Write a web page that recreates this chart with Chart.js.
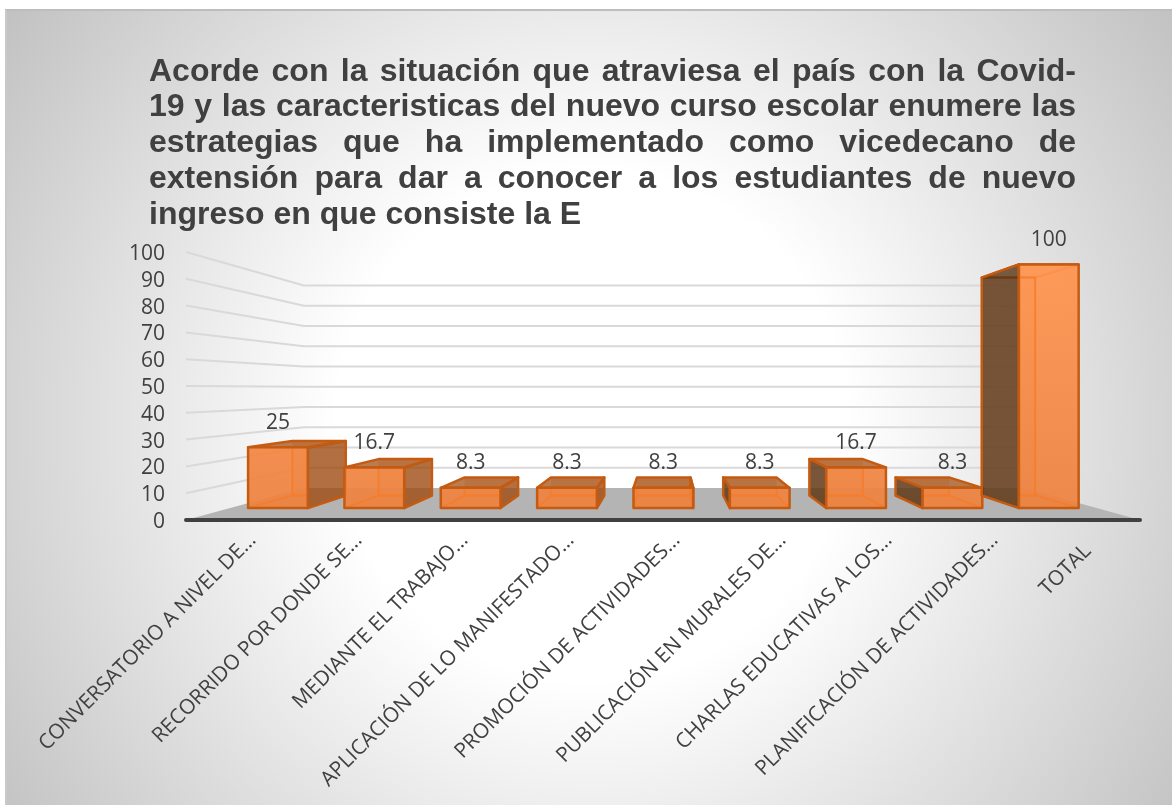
<!DOCTYPE html>
<html>
<head>
<meta charset="utf-8">
<script src="https://cdn.jsdelivr.net/npm/chart.js@4"></script>
<style>
html, body { margin: 0; padding: 0; background: #fff; }
#frame { position: absolute; left: 5px; top: 9px; width: 1167px; height: 796px; box-sizing: border-box;
	border-top: 2px solid #bdbdbd; border-left: 2px solid #c9c9c9;
	background: radial-gradient(circle 730px at 585px 415px, #fff 0%, #fff 35%, #c0c0c0 100%); }
#title { position: absolute; left: 149px; top: 52.5px; width: 927px; color: #404040;
	font: bold 32px "Liberation Sans", Arial, sans-serif; line-height: 35.9px; }
#title div { text-align: justify; text-align-last: justify; white-space: nowrap; }
#title div:last-child { text-align-last: left; }
canvas { position: absolute; left: 0; top: 0; }
</style>
</head>
<body>
<div id="frame"></div>
<canvas id="c" width="1172" height="805"></canvas>
<div id="title"></div>
<script>
var titleLines = [
	'Acorde con la situación que atraviesa el país con la Covid-',
	'19 y las caracteristicas del nuevo curso escolar enumere las',
	'estrategias que ha implementado como vicedecano de',
	'extensión para dar a conocer a los estudiantes de nuevo',
	'ingreso en que consiste la E'
];
var categories = [
	'CONVERSATORIO A NIVEL DE…',
	'RECORRIDO POR DONDE SE…',
	'MEDIANTE EL TRABAJO…',
	'APLICACIÓN DE LO MANIFESTADO…',
	'PROMOCIÓN DE ACTIVIDADES…',
	'PUBLICACIÓN EN MURALES DE…',
	'CHARLAS EDUCATIVAS A LOS…',
	'PLANIFICACIÓN DE ACTIVIDADES…',
	'TOTAL'
];
var values = [25, 16.7, 8.3, 8.3, 8.3, 8.3, 16.7, 8.3, 100];

// fake perspective: everything is scaled towards this point
var vpX = 667, vpY = 389;
var wallDepth = 0.755, barFront = 0.909, barBack = 0.813;
var textColor = '#404040';

document.getElementById('title').innerHTML = titleLines.map(function(l) {
	return '<div>' + l + '</div>';
}).join('');

function project(x, y, s) {
	return [vpX + (x - vpX) * s, vpY + (y - vpY) * s];
}

function tracePath(ctx, pts) {
	ctx.beginPath();
	pts.forEach(function(p, i) {
		if (i == 0) ctx.moveTo(p[0], p[1]); else ctx.lineTo(p[0], p[1]);
	});
	ctx.closePath();
}

function face(ctx, pts, fill, stroke, lw) {
	tracePath(ctx, pts);
	if (fill) { ctx.fillStyle = fill; ctx.fill(); }
	if (stroke) { ctx.strokeStyle = stroke; ctx.lineWidth = lw; ctx.stroke(); }
}

var walls = {
	id: 'walls',
	beforeDatasetsDraw: function(chart) {
		var ctx = chart.ctx, x = chart.scales.x, y = chart.scales.y;
		var y0 = y.getPixelForValue(0);
		ctx.save();
		ctx.lineWidth = 2;
		ctx.strokeStyle = '#d9d9d9';
		y.ticks.forEach(function(t) {
			if (t.value == 0) return;
			var py = y.getPixelForValue(t.value);
			var a = project(x.left, py, wallDepth), b = project(x.right, py, wallDepth);
			ctx.beginPath();
			ctx.moveTo(x.left, py);
			ctx.lineTo(a[0], a[1]);
			ctx.lineTo(b[0], b[1]);
			ctx.stroke();
		});
		face(ctx, [[x.left, y0], project(x.left, y0, wallDepth), project(x.right, y0, wallDepth), [x.right, y0]], '#b4b4b4');
		ctx.lineCap = 'round';
		ctx.lineWidth = 4;
		ctx.strokeStyle = '#404040';
		ctx.beginPath();
		ctx.moveTo(x.left, y0);
		ctx.lineTo(x.right, y0);
		ctx.stroke();
		ctx.restore();
	},
	afterDatasetsDraw: function(chart) {
		var ctx = chart.ctx, x = chart.scales.x, y = chart.scales.y;
		var y0 = y.getPixelForValue(0);
		var bars = chart.getDatasetMeta(0).data;
		var grad = ctx.createLinearGradient(0, y.getPixelForValue(100), 0, y0);
		grad.addColorStop(0, 'rgba(255,150,82,0.94)');
		grad.addColorStop(1, 'rgba(236,130,64,0.94)');
		var edge = '#c55a11', inner = 'rgba(245,125,45,0.85)';
		ctx.save();
		ctx.lineJoin = 'round';
		bars.forEach(function(bar, i) {
			var l = bar.x - bar.width / 2, r = bar.x + bar.width / 2;
			var py = y.getPixelForValue(values[i]);
			var fbl = project(l, y0, barFront), fbr = project(r, y0, barFront);
			var ftl = project(l, py, barFront), ftr = project(r, py, barFront);
			var bbl = project(l, y0, barBack), bbr = project(r, y0, barBack);
			var btl = project(l, py, barBack), btr = project(r, py, barBack);
			var leftOfVp = bar.x < vpX;
			face(ctx, [bbl, bbr, fbr, fbl], 'rgba(237,125,49,0.35)');
			face(ctx, [btl, btr, bbr, bbl], 'rgba(237,125,49,0.3)');
			// the tall bar top is above eye level, so we look at it from below
			if (py > vpY) {
				face(ctx, [ftl, btl, btr, ftr], 'rgba(160,75,15,0.72)', edge, 2.5);
			} else {
				face(ctx, [ftl, btl, btr, ftr], null, edge, 2.5);
			}
			if (leftOfVp) {
				face(ctx, [ftr, btr, bbr, fbr], 'rgba(150,70,15,0.72)', edge, 2.5);
			} else {
				face(ctx, [ftl, btl, bbl, fbl], 'rgba(85,50,20,0.78)', edge, 2.5);
			}
			face(ctx, [ftl, ftr, fbr, fbl], grad);
			// inner edges show through the front face
			ctx.save();
			tracePath(ctx, [ftl, ftr, fbr, fbl]);
			ctx.clip();
			ctx.strokeStyle = inner;
			ctx.lineWidth = 2;
			tracePath(ctx, [btl, btr, bbr, bbl]);
			ctx.stroke();
			tracePath(ctx, [bbl, bbr, fbr, fbl]);
			ctx.stroke();
			ctx.restore();
			face(ctx, [ftl, ftr, fbr, fbl], null, edge, 2.5);
		});
		ctx.fillStyle = textColor;
		// value labels sit above the front top edge
		ctx.font = '21px "Open Sans"';
		ctx.textAlign = 'center';
		ctx.textBaseline = 'middle';
		bars.forEach(function(bar, i) {
			var p = project(bar.x, y.getPixelForValue(values[i]), barFront);
			ctx.fillText(String(values[i]), p[0], p[1] - 24.5);
		});
		// category labels, the short one sits lower and closer to its tick
		ctx.font = '20.8px "Open Sans"';
		ctx.textAlign = 'right';
		ctx.textBaseline = 'alphabetic';
		categories.forEach(function(label, i) {
			var isShort = label.length < 10;
			ctx.save();
			ctx.translate(x.getPixelForTick(i) + (isShort ? 5 : 18), y0 + (isShort ? 32 : 21));
			ctx.rotate(-Math.PI / 4);
			ctx.fillText(label, 0, 0);
			ctx.restore();
		});
		ctx.restore();
	}
};

var chart = new Chart(document.getElementById('c').getContext('2d'), {
	type: 'bar',
	data: {
		labels: categories,
		datasets: [{
			data: values,
			backgroundColor: 'rgba(0,0,0,0)',
			borderWidth: 0,
			categoryPercentage: 1,
			barPercentage: 0.62
		}]
	},
	options: {
		responsive: false,
		animation: false,
		layout: { padding: { top: 252, right: 32, left: 0, bottom: 0 } },
		plugins: { legend: { display: false }, title: { display: false }, tooltip: { enabled: false } },
		scales: {
			x: {
				grid: { display: false, drawTicks: false },
				border: { display: false },
				afterFit: function(scale) { scale.height = 285; },
				ticks: { display: false }
			},
			y: {
				min: 0,
				max: 100,
				grid: { display: false, drawTicks: false },
				border: { display: false },
				afterFit: function(scale) { scale.width = 186; },
				ticks: {
					stepSize: 10,
					autoSkip: false,
					padding: 21,
					labelOffset: 2,
					color: textColor,
					font: { family: 'Open Sans', size: 21 }
				}
			}
		}
	},
	plugins: [walls]
});
</script>
</body>
</html>
